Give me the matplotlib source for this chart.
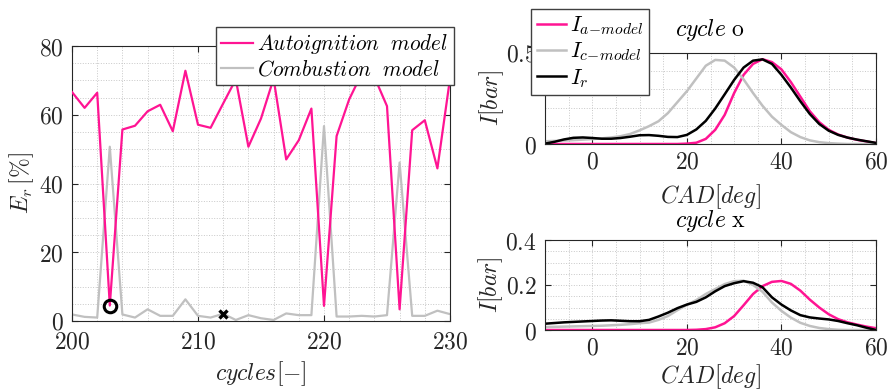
import numpy as np
import matplotlib
matplotlib.use("Agg")
import matplotlib.pyplot as plt
from matplotlib.ticker import MultipleLocator

plt.rcParams['mathtext.fontset'] = 'cm'
plt.rcParams['font.family'] = ['DejaVu Serif']

# ---- cycle-to-cycle error ----
cycles = np.arange(200, 231)
autoignition_err = [66.6, 62.0, 66.4, 4.5, 55.7, 56.8, 61.0, 62.9, 55.2, 72.8,
                    57.1, 56.2, 63.3, 70.3, 50.7, 58.9, 70.5, 47.0, 52.6, 61.8,
                    4.4, 53.8, 64.5, 72.0, 71.0, 62.5, 3.4, 55.5, 58.4, 44.4, 70.5]
combustion_err = [1.9, 1.2, 1.0, 50.7, 1.9, 1.0, 3.4, 1.5, 1.5, 6.3,
                  1.5, 1.0, 2.1, 0.3, 1.7, 0.8, 0.3, 2.2, 1.7, 1.7,
                  56.7, 1.3, 1.3, 1.5, 1.3, 1.7, 46.1, 1.5, 1.5, 3.0, 2.0]
cycle_o_idx = 3    # cycle 203
cycle_x_idx = 12   # cycle 212

# ---- intensity traces (crank angle, 2 deg steps) ----
cad = np.arange(-10, 61, 2)
o_a_model = [0, 0, 0, 0, 0, 0, 0, 0, 0, 0, 0, 0, 0, 0, 0,
             0.002, 0.007, 0.028, 0.078, 0.16, 0.28, 0.38, 0.44, 0.466, 0.45,
             0.41, 0.34, 0.26, 0.18, 0.12, 0.078, 0.052, 0.035, 0.023, 0.014, 0.005]
o_c_model = [0.015, 0.017, 0.019, 0.021, 0.024, 0.027, 0.031, 0.036, 0.043, 0.055,
             0.075, 0.098, 0.125, 0.17, 0.23, 0.29, 0.36, 0.43, 0.462, 0.458,
             0.42, 0.355, 0.28, 0.21, 0.15, 0.105, 0.065, 0.038, 0.02, 0.01,
             0.005, 0.002, 0, 0, 0, 0]
o_r = [0.002, 0.012, 0.025, 0.034, 0.036, 0.033, 0.029, 0.029, 0.033, 0.04,
       0.048, 0.049, 0.045, 0.039, 0.038, 0.05, 0.08, 0.127, 0.195, 0.273,
       0.352, 0.42, 0.458, 0.465, 0.44, 0.38, 0.31, 0.235, 0.165, 0.11,
       0.073, 0.05, 0.035, 0.024, 0.015, 0.006]

x_a_model = [0, 0, 0, 0, 0, 0, 0, 0, 0, 0, 0, 0, 0, 0, 0, 0,
             0.001, 0.004, 0.012, 0.03, 0.062, 0.11, 0.16, 0.195, 0.214, 0.218,
             0.205, 0.175, 0.135, 0.10, 0.07, 0.048, 0.034, 0.024, 0.015, 0.008]
x_c_model = [0.013, 0.014, 0.015, 0.016, 0.017, 0.018, 0.019, 0.021, 0.023, 0.026,
             0.03, 0.033, 0.045, 0.062, 0.088, 0.112, 0.133, 0.16, 0.182, 0.204,
             0.217, 0.219, 0.2, 0.17, 0.122, 0.085, 0.055, 0.032, 0.018, 0.009,
             0.004, 0.001, 0, 0, 0, 0]
x_r = [0.028, 0.031, 0.034, 0.036, 0.038, 0.04, 0.042, 0.043, 0.041, 0.039,
       0.039, 0.045, 0.06, 0.077, 0.097, 0.113, 0.125, 0.145, 0.172, 0.195,
       0.208, 0.217, 0.21, 0.19, 0.145, 0.113, 0.087, 0.066, 0.056, 0.051,
       0.047, 0.04, 0.03, 0.021, 0.01, 0.0]

err_xticks = [200, 210, 220, 230]
err_yticks = [0, 20, 40, 60, 80]
cad_xticks = [0, 20, 40, 60]
o_yticks = [0, 0.5]
x_yticks = [0, 0.2, 0.4]

PINK = '#ff1493'
GRAY = '#c0c0c0'
AXC = '#262626'
FS = 17

W, H = 889, 392
fig = plt.figure(figsize=(W / 100, H / 100), dpi=100)


def px_axes(left, top, right, bottom):
    return fig.add_axes([left / W, 1 - bottom / H, (right - left) / W, (bottom - top) / H])


def style(ax, xticks, yticks, xminor, yminor, xlim, ylim, xpad=5):
    ax.set_xlim(*xlim)
    ax.set_ylim(*ylim)
    ax.set_xticks(xticks)
    ax.set_xticklabels([f'${t:g}$' for t in xticks])
    ax.set_yticks(yticks)
    ax.set_yticklabels([f'${t:g}$' for t in yticks])
    ax.xaxis.set_minor_locator(MultipleLocator(xminor))
    ax.yaxis.set_minor_locator(MultipleLocator(yminor))
    ax.tick_params(which='major', direction='in', length=4, width=0.8, colors=AXC,
                   labelsize=FS, top=True, right=True)
    ax.tick_params(axis='x', which='major', pad=xpad)
    ax.tick_params(axis='y', which='major', pad=6)
    ax.tick_params(which='minor', length=0, top=True, right=True)
    ax.grid(True, which='both', linestyle=':', linewidth=0.7, color='#c8c8c8')
    ax.set_axisbelow(True)
    for s in ax.spines.values():
        s.set_color(AXC)
        s.set_linewidth(0.8)


def frame_legend(ax, anchor, fs, hlen):
    leg = ax.legend(loc='upper right', bbox_to_anchor=anchor,
                    bbox_transform=fig.transFigure, fontsize=fs,
                    fancybox=False, framealpha=1, edgecolor='#404040',
                    handlelength=hlen, handletextpad=0.2, borderpad=0.25,
                    labelspacing=0.15, borderaxespad=0)
    leg.get_frame().set_linewidth(1.0)
    return leg


# ---- left panel ----
ax1 = px_axes(72, 46, 450, 321)
ax1.plot(cycles, autoignition_err, color=PINK, lw=1.6,
         label=r'$Autoignition\ \ model$', zorder=3)
ax1.plot(cycles, combustion_err, color=GRAY, lw=1.6,
         label=r'$Combustion\ \ model$', zorder=2)
ax1.plot(cycles[cycle_o_idx], autoignition_err[cycle_o_idx], 'o', mfc='none',
         mec='black', ms=9, mew=2.2, zorder=4)
ax1.plot(cycles[cycle_x_idx], combustion_err[cycle_x_idx], 'x', color='black',
         ms=6, mew=2.4, zorder=4)
style(ax1, err_xticks, err_yticks, 2, 5, (200, 230), (0, 80), xpad=7)
ax1.set_xlabel(r'$cycles[-]$', fontsize=FS, color=AXC, labelpad=4)
ax1.set_ylabel(r'$E_r\,[\%]$', fontsize=FS, color=AXC, labelpad=2)
frame_legend(ax1, (454 / W, 1 - 27 / H), 15.3, 1.5)

# ---- cycle o ----
ax2 = px_axes(545, 53, 876, 144)
ax2.plot(cad, o_a_model, color=PINK, lw=1.8, label=r'$I_{a\!-\!model}$',
         solid_joinstyle='round')
ax2.plot(cad, o_c_model, color=GRAY, lw=1.8, label=r'$I_{c\!-\!model}$',
         solid_joinstyle='round')
ax2.plot(cad, o_r, color='black', lw=1.8, label=r'$I_r$', solid_joinstyle='round')
style(ax2, cad_xticks, o_yticks, 5, 0.1, (-10, 60), (0, 0.5))
ax2.set_title(r'$cycle\ \mathrm{o}$', fontsize=FS, color='black', pad=12)
ax2.set_xlabel(r'$CAD[deg]$', fontsize=FS, color=AXC, labelpad=6)
ax2.set_ylabel(r'$I[bar]$', fontsize=FS, color=AXC, labelpad=0)
frame_legend(ax2, (649 / W, 1 - 9 / H), 16, 1.3)

# ---- cycle x ----
ax3 = px_axes(545, 240, 876, 330)
ax3.plot(cad, x_a_model, color=PINK, lw=1.8, solid_joinstyle='round')
ax3.plot(cad, x_c_model, color=GRAY, lw=1.8, solid_joinstyle='round')
ax3.plot(cad, x_r, color='black', lw=1.8, solid_joinstyle='round')
style(ax3, cad_xticks, x_yticks, 5, 0.05, (-10, 60), (0, 0.4))
ax3.set_title(r'$cycle\ \mathrm{x}$', fontsize=FS, color='black', pad=9)
ax3.set_xlabel(r'$CAD[deg]$', fontsize=FS, color=AXC, labelpad=2)
ax3.set_ylabel(r'$I[bar]$', fontsize=FS, color=AXC, labelpad=0)

fig.savefig('out.png', dpi=100)
